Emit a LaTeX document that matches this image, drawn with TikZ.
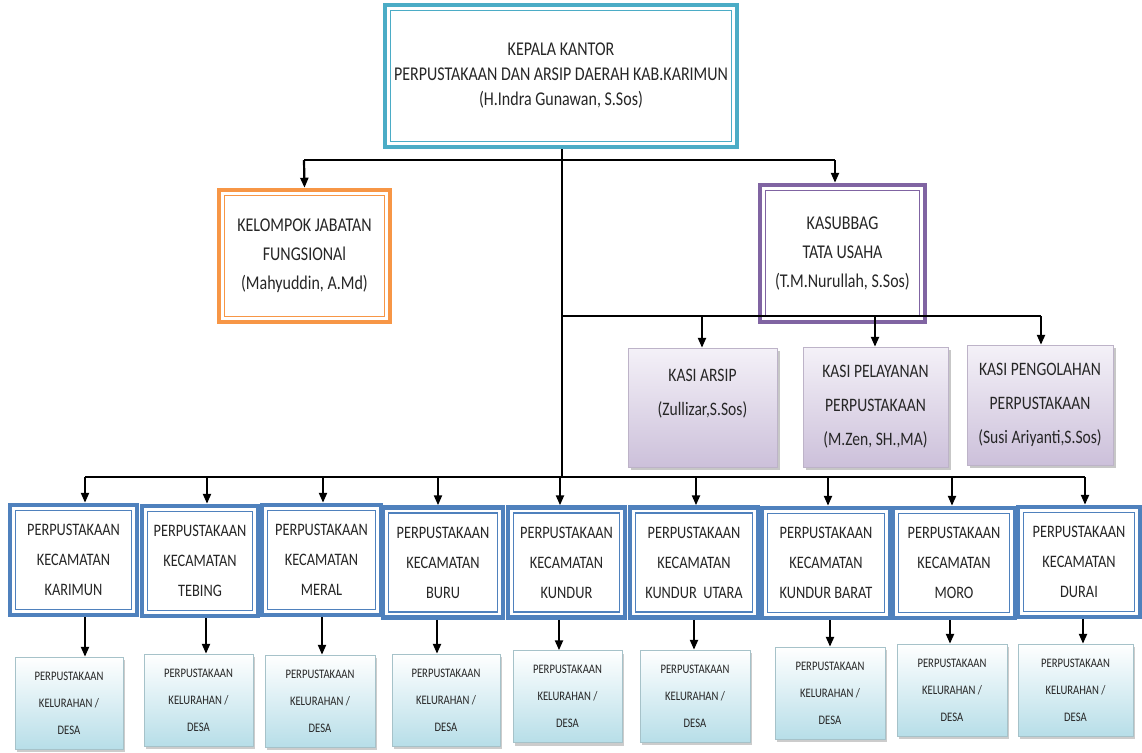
\documentclass[tikz,border=0pt]{standalone}
\usepackage{fontspec}
\setmainfont{Carlito}[FakeStretch=0.82]
\usetikzlibrary{arrows.meta,shadows}
\definecolor{tealc}{HTML}{4BACC6}
\definecolor{orangec}{HTML}{F79646}
\definecolor{purplec}{HTML}{8064A2}
\definecolor{bluec}{HTML}{4F81BD}
\definecolor{lavtop}{HTML}{F4F1F8}
\definecolor{lavbot}{HTML}{CCC0DA}
\definecolor{skybot}{HTML}{B7DEE8}
\definecolor{txt}{HTML}{262626}
\begin{document}
\begin{tikzpicture}[x=1pt,y=-1pt,
  dblbox/.style={draw=#1, line width=4.5pt, fill=white, inner sep=0pt, align=center,
    text=txt,
    path picture={\draw[#1, line width=1.6pt]
      ([shift={(5.5pt,5.5pt)}]path picture bounding box.south west) rectangle
      ([shift={(-5.5pt,-5.5pt)}]path picture bounding box.north east);}},
  kasibox/.style={draw=lavbot!80!gray, line width=0.5pt, top color=lavtop, bottom color=lavbot,
    inner sep=0pt, align=center, text=txt, font=\fontsize{19}{34}\selectfont,
    drop shadow={shadow xshift=2.5pt, shadow yshift=-3pt, fill=gray!55, opacity=0.8}},
  desabox/.style={draw=skybot!70!gray, line width=0.5pt, top color=white, bottom color=skybot,
    inner sep=0pt, align=center, text=txt, minimum height=92pt,
    font=\fontsize{13}{27}\selectfont,
    drop shadow={shadow xshift=2pt, shadow yshift=-3pt, fill=gray!50, opacity=0.8}},
  kecbox/.style={dblbox=bluec, font=\fontsize{17.5}{30}\selectfont, minimum height=110pt},
  conn/.style={draw=black, line width=2.2pt},
  arr/.style={conn, -{Triangle[length=10pt,width=8pt]}}
]
\useasboundingbox (0,0) rectangle (1142,752);

% top
\node[dblbox=tealc, minimum width=352pt, minimum height=142pt,
  font=\fontsize{19.5}{25}\selectfont] (top) at (561,76)
  {KEPALA KANTOR\\PERPUSTAKAAN DAN ARSIP DAERAH KAB.KARIMUN\\(H.Indra Gunawan, S.Sos)};

\node[dblbox=orangec, minimum width=171pt, minimum height=132pt,
  font=\fontsize{19.5}{29}\selectfont] (klp) at (304.5,256)
  {KELOMPOK JABATAN\\FUNGSIONAl\\(Mahyuddin, A.Md)};

\node[dblbox=purplec, minimum width=165pt, minimum height=137pt,
  font=\fontsize{19.5}{29}\selectfont] (ksb) at (842.5,253.5)
  {KASUBBAG\\TATA USAHA\\(T.M.Nurullah, S.Sos)};

% kasi
\node[kasibox, minimum width=149pt, minimum height=119pt]
  (k1) at (702.5,407.5) {KASI ARSIP\\(Zullizar,S.Sos)\\[-4pt]\mbox{}};
\node[kasibox, minimum width=145pt, minimum height=120pt]
  (k2) at (875.5,407) {KASI PELAYANAN\\PERPUSTAKAAN\\(M.Zen, SH.,MA)};
\node[kasibox, minimum width=146pt, minimum height=120pt]
  (k3) at (1040,405) {KASI PENGOLAHAN\\PERPUSTAKAAN\\(Susi Ariyanti,S.Sos)};

% kecamatan
\node[kecbox, minimum width=127pt] (c1) at (73.5,560) {PERPUSTAKAAN\\KECAMATAN\\KARIMUN};
\node[kecbox, minimum width=116pt] (c2) at (200,561) {PERPUSTAKAAN\\KECAMATAN\\TEBING};
\node[kecbox, minimum width=119pt] (c3) at (321.5,560) {PERPUSTAKAAN\\KECAMATAN\\MERAL};
\node[kecbox, minimum width=120pt] (c4) at (443,562.5) {PERPUSTAKAAN\\KECAMATAN\\BURU};
\node[kecbox, minimum width=117pt] (c5) at (566.5,562.5) {PERPUSTAKAAN\\KECAMATAN\\KUNDUR};
\node[kecbox, minimum width=128pt] (c6) at (694,562.5) {PERPUSTAKAAN\\KECAMATAN\\KUNDUR\ \ UTARA};
\node[kecbox, minimum width=128pt] (c7) at (826,563) {PERPUSTAKAAN\\KECAMATAN\\KUNDUR BARAT};
\node[kecbox, minimum width=122pt] (c8) at (954,563) {PERPUSTAKAAN\\KECAMATAN\\MORO};
\node[kecbox, minimum width=122pt] (c9) at (1079,562) {PERPUSTAKAAN\\KECAMATAN\\DURAI};

% desa
\node[desabox, minimum width=108pt] (d1) at (69,703) {PERPUSTAKAAN\\KELURAHAN /\\DESA};
\node[desabox, minimum width=109pt] (d2) at (198.5,700) {PERPUSTAKAAN\\KELURAHAN /\\DESA};
\node[desabox, minimum width=110pt] (d3) at (320,701) {PERPUSTAKAAN\\KELURAHAN /\\DESA};
\node[desabox, minimum width=108pt] (d4) at (446,700) {PERPUSTAKAAN\\KELURAHAN /\\DESA};
\node[desabox, minimum width=109pt] (d5) at (567.5,696.5) {PERPUSTAKAAN\\KELURAHAN /\\DESA};
\node[desabox, minimum width=110pt] (d6) at (695,696) {PERPUSTAKAAN\\KELURAHAN /\\DESA};
\node[desabox, minimum width=110pt] (d7) at (830,693) {PERPUSTAKAAN\\KELURAHAN /\\DESA};
\node[desabox, minimum width=110pt] (d8) at (952,690) {PERPUSTAKAAN\\KELURAHAN /\\DESA};
\node[desabox, minimum width=115pt] (d9) at (1075.5,690) {PERPUSTAKAAN\\KELURAHAN /\\DESA};

% connectors
\coordinate (j1) at (562,160);
\coordinate (j2) at (562,316);
\coordinate (j3) at (562,477);
\coordinate (bl) at (304,160);
\coordinate (br) at (835,160);
\draw[conn, line width=1.8pt] (top.south -| j1) -- (j3);
\draw[conn] (bl) -- (br);
\draw[arr] (bl) -- (klp.north);
\draw[arr] (br) -- (br |- ksb.north);

\coordinate (s1) at (702,316);
\coordinate (s2) at (875,316);
\coordinate (s3) at (1041,316);
\draw[conn] (j2) -- (s3);
\draw[arr] (s1) -- (s1 |- k1.north);
\draw[arr] (s2) -- (s2 |- k2.north);
\draw[arr] (s3) -- (s3 |- k3.north);

\foreach \i/\x in {1/85,2/207,3/323,4/438,5/560,6/696,7/828,8/952,9/1085}{
  \coordinate (b\i) at (\x,477);
}
\draw[conn] (b1) -- (b9);
\foreach \i in {1,...,9}{
  \draw[arr] (b\i) -- (b\i |- c\i.north);
}
\foreach \i/\x in {1/85,2/206,3/322,4/437,5/559,6/694,7/830,8/950,9/1083}{
  \coordinate (e\i) at (\x,617);
  \draw[arr] (e\i |- c\i.south) -- (e\i |- d\i.north);
}
\end{tikzpicture}
\end{document}
